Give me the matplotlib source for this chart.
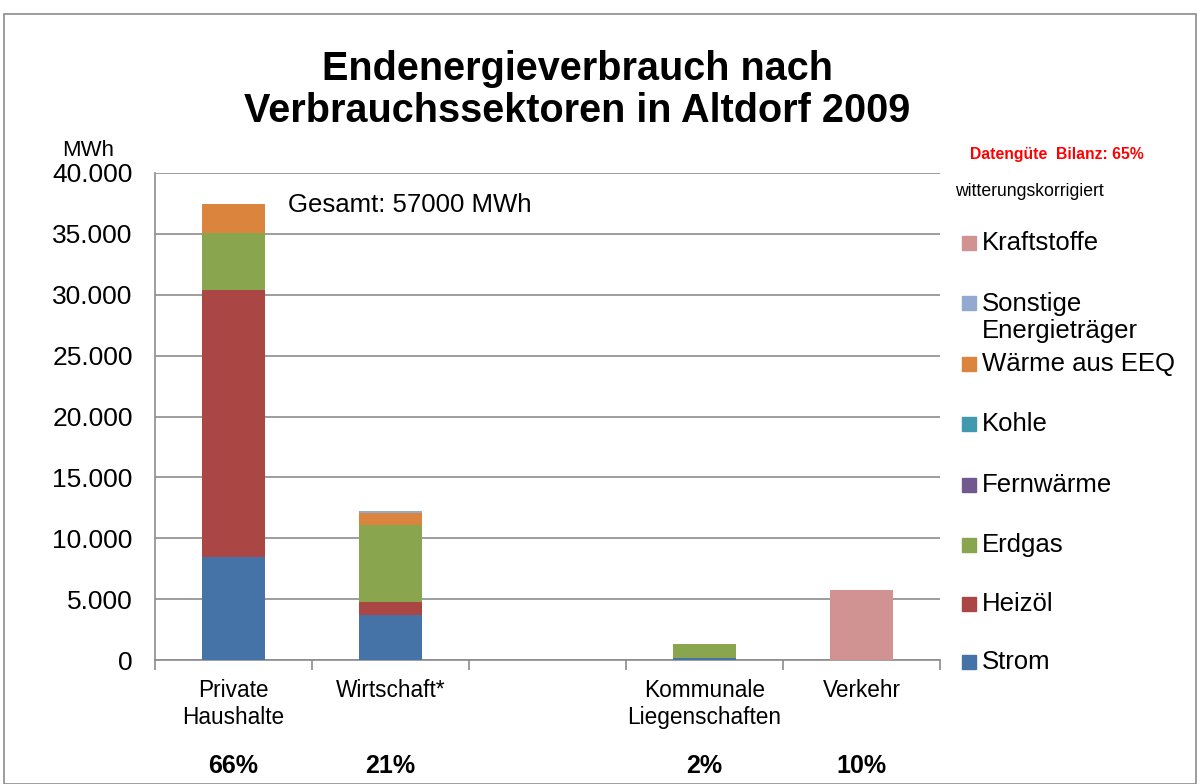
import matplotlib
matplotlib.use('Agg')
import matplotlib.pyplot as plt
from matplotlib.patches import Rectangle
from matplotlib.ticker import FuncFormatter
import numpy as np

plt.rcParams['font.family'] = ['Liberation Sans', 'DejaVu Sans']

# Sektoren (leerer Platz zwischen Wirtschaft und Kommunale)
sektoren = ['Private\nHaushalte', 'Wirtschaft*', '', 'Kommunale\nLiegenschaften', 'Verkehr']
anteile = ['66%', '21%', '', '2%', '10%']

# Werte in MWh je Energieträger
strom = [8450, 3700, 0, 200, 0]
heizoel = [21950, 1090, 0, 0, 0]
erdgas = [4650, 6300, 0, 1100, 0]
fernwaerme = [0, 0, 0, 0, 0]
kohle = [0, 0, 0, 0, 0]
waerme_eeq = [2400, 1010, 0, 0, 0]
sonstige = [0, 140, 0, 0, 0]
kraftstoffe = [0, 0, 0, 0, 5750]

serien = [
    ('Strom', strom, '#4572A7'),
    ('Heizöl', heizoel, '#AA4643'),
    ('Erdgas', erdgas, '#89A54E'),
    ('Fernwärme', fernwaerme, '#71588F'),
    ('Kohle', kohle, '#4198AF'),
    ('Wärme aus EEQ', waerme_eeq, '#DB843D'),
    ('Sonstige\nEnergieträger', sonstige, '#93A9CF'),
    ('Kraftstoffe', kraftstoffe, '#D19392'),
]

fig = plt.figure(figsize=(12, 7.84), dpi=100)
ax = fig.add_axes([155 / 1200, 1 - 660 / 784, 785 / 1200, 487 / 784])

x = np.arange(len(sektoren))
unten = np.zeros(len(sektoren))
for name, werte, farbe in serien:
    werte = np.array(werte, dtype=float)
    ax.bar(x, werte, bottom=unten, width=0.4, color=farbe, zorder=3)
    unten += werte

ax.set_xlim(-0.5, len(sektoren) - 0.5)
ax.set_ylim(0, 40000)
ax.set_yticks(np.arange(0, 40001, 5000))
ax.yaxis.set_major_formatter(FuncFormatter(lambda v, p: f'{int(v):,}'.replace(',', '.')))
ax.grid(axis='y', color='#8c8c8c', linewidth=1.2, zorder=0)
ax.tick_params(axis='y', labelsize=19, length=0, pad=16)

# Ticks zwischen Kategorien
ax.set_xticks(np.arange(-0.5, len(sektoren)))
ax.set_xticklabels([])
ax.tick_params(axis='x', length=7, color='#8c8c8c', width=1.2, direction='out')
for i, s in enumerate(sektoren):
    ax.text(i, -1550, s, ha='center', va='top', fontsize=16.3, linespacing=1.25)
    ax.text(i, -8700, anteile[i], ha='center', va='center', fontsize=18, fontweight='bold')

for side in ['top', 'right']:
    ax.spines[side].set_visible(False)
for side in ['left', 'bottom']:
    ax.spines[side].set_color('#8c8c8c')
    ax.spines[side].set_linewidth(1.2)

ax.text(0.35, 37350, 'Gesamt: 57000 MWh', fontsize=18.5, va='center')

fig.text(577 / 1200, 1 - 90 / 784, 'Endenergieverbrauch nach\nVerbrauchssektoren in Altdorf 2009',
         ha='center', va='center', fontsize=28.5, fontweight='bold', linespacing=1.12)
fig.text(88 / 1200, 1 - 150 / 784, 'MWh', ha='center', va='center', fontsize=16)
fig.text(1057 / 1200, 1 - 155 / 784, 'Datengüte  Bilanz: 65%', ha='center', va='center',
         fontsize=11.3, fontweight='bold', color='#ff0000')
fig.text(955 / 1200, 1 - 192 / 784, 'witterungskorrigiert', ha='left', va='center', fontsize=12.7)

# Legende (umgekehrte Reihenfolge)
leg_y = [243, 303, 364, 424, 485, 545, 604, 662]
for (name, werte, farbe), yy in zip(serien[::-1], leg_y):
    fig.patches.append(Rectangle((962 / 1200, 1 - (yy + 7) / 784), 14 / 1200, 14 / 784,
                                 transform=fig.transFigure, color=farbe))
    if '\n' in name:
        fig.text(982 / 1200, 1 - (yy - 11) / 784, name, ha='left', va='top',
                 fontsize=18.5, linespacing=1.15)
    else:
        fig.text(982 / 1200, 1 - yy / 784, name, ha='left', va='center', fontsize=18.5)

# Rahmen
fig.patches.append(Rectangle((4 / 1200, 0), 1192 / 1200, 1 - 14 / 784, transform=fig.transFigure,
                             fill=False, edgecolor='#8c8c8c', linewidth=1.2))

fig.savefig('out.png', dpi=100)
